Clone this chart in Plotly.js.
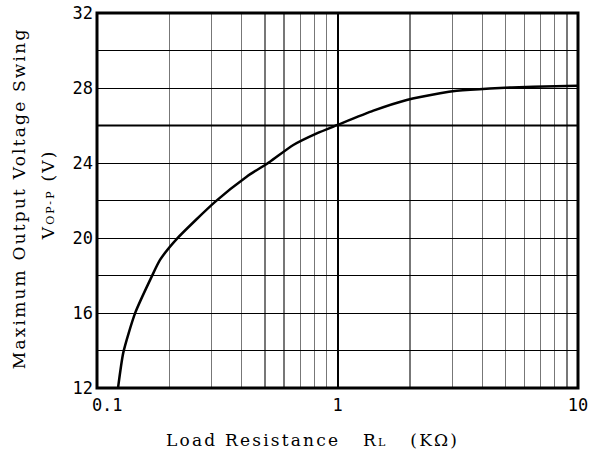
<!DOCTYPE html>
<html><head><meta charset="utf-8">
<script src="https://cdn.plot.ly/plotly-3.0.1.min.js"></script>
<style>body{margin:0;background:#fff}#c{width:591px;height:455px}
.annotation-text{letter-spacing:2.2px}
</style>
</head><body><div id="c"></div>
<script>
const loadK = [0.1223, 0.1287, 0.1439, 0.1688, 0.1828, 0.2157, 0.3105, 0.419, 0.524, 0.655, 0.82, 1.0, 1.41, 1.94, 2.67, 3.13, 4.3, 6.52, 10];
const vswing = [12.0, 13.9, 15.98, 17.94, 18.83, 19.98, 21.94, 23.27, 24.07, 24.96, 25.58, 26.03, 26.79, 27.36, 27.72, 27.85, 27.98, 28.07, 28.12];
const xTicks = [0.1, 1, 10];
const xTickText = ["\u00a0\u00a00.1", "1", "10"];
const xMinor = [0.2,0.3,0.4,0.5,0.6,0.7,0.8,0.9,2,3,4,5,6,7,8,9];
const yTicks = [12, 16, 20, 24, 28, 32];

const FT = "DejaVu Serif, serif";
const FN = "DejaVu Sans Mono, monospace";
const data = [{x: loadK, y: vswing, type: 'scatter', mode: 'lines', line: {color: '#000', width: 2.5, shape: 'spline', smoothing: 0.6}, hoverinfo: 'skip'}];
const layout = {
  width: 591, height: 455,
  margin: {l: 97, r: 13, t: 13, b: 67},
  paper_bgcolor: '#fff', plot_bgcolor: '#fff',
  showlegend: false,
  font: {family: FN, color: '#000', size: 17},
  xaxis: {type: 'log', range: [-1, 1], tickvals: xTicks, ticktext: xTickText,
    showgrid: true, gridcolor: '#000', gridwidth: 2, ticks: '', zeroline: false,
    showline: false, tickfont: {family: FN, size: 17}, ticklabelstandoff: 5,
    minor: {tickvals: xMinor, showgrid: true, gridcolor: '#777', gridwidth: 1.3, ticks: ''}},
  yaxis: {range: [12, 32], tickvals: yTicks, showgrid: true, gridcolor: '#000', gridwidth: 1,
    ticks: '', zeroline: false, showline: false, tickfont: {family: FN, size: 17}, ticklabelstandoff: 3,
    minor: {dtick: 2, showgrid: true, gridcolor: '#000', gridwidth: 1, ticks: ''}},
  shapes: [
    {type: 'line', xref: 'paper', yref: 'y', x0: 0, x1: 1, y0: 26, y1: 26, line: {color: '#000', width: 2}},
    {type: 'rect', xref: 'paper', yref: 'paper', x0: 0, x1: 1, y0: 0, y1: 1, line: {color: '#000', width: 3}}
  ],
  annotations: [
    {xref: 'paper', yref: 'paper', x: 0.448, y: -0.139, xanchor: 'center', yanchor: 'middle', showarrow: false,
     text: 'Load Resistance\u00a0\u00a0 R<span style="font-size:11px">L</span>\u00a0\u00a0 (KΩ)', font: {family: FT, size: 17}},
    {xref: 'paper', yref: 'paper', x: -0.163, y: 0.505, xanchor: 'center', yanchor: 'middle', showarrow: false, textangle: -90,
     text: 'Maximum Output Voltage Swing', font: {family: FT, size: 17}},
    {xref: 'paper', yref: 'paper', x: -0.103, y: 0.515, xanchor: 'center', yanchor: 'middle', showarrow: false, textangle: -90,
     text: 'V<span style="font-size:11px">OP-P</span> (V)', font: {family: FT, size: 17}}
  ]
};
Plotly.newPlot('c', data, layout, {staticPlot: true, displayModeBar: false});
</script></body></html>
